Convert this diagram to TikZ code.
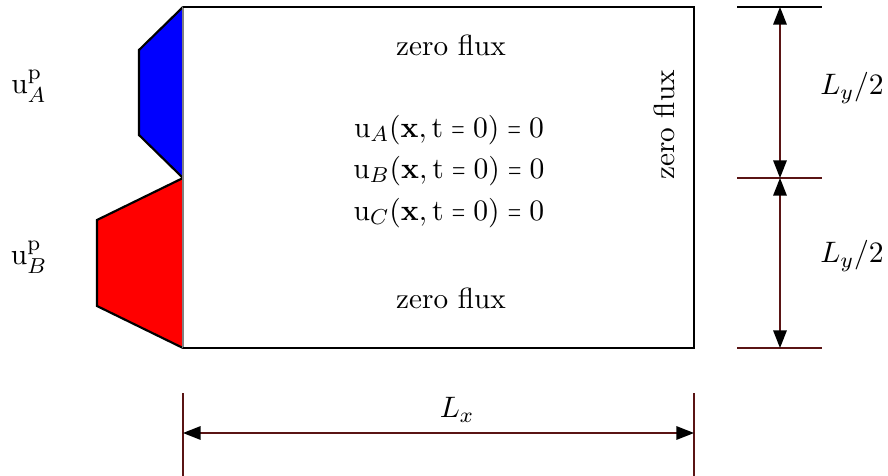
\documentclass[tikz,border=0pt]{standalone}
\usepackage{graphicx}
\usetikzlibrary{arrows.meta}
\definecolor{dimred}{RGB}{90,20,20}
\newcommand{\nareq}{\mathrel{\scalebox{0.58}[1]{$=$}}}
\tikzset{
  dimline/.style={dimred, line width=0.5pt},
  dimarrow/.style={dimred, line width=0.5pt, {Triangle[length=6.5pt,width=5pt,black]}-{Triangle[length=6.5pt,width=5pt,black]}},
  inlet/.style={draw=black, line width=0.8pt, line join=miter},
  every node/.style={font=\fontsize{10.8}{13}\selectfont},
}
\begin{document}
\begin{tikzpicture}[x=0.37pt, y=-0.37pt]
\useasboundingbox (0,0) rectangle (888,476);
% domain corners
\coordinate (tl) at (183,7);
\coordinate (tr) at (694,7);
\coordinate (ml) at (183,178);
\coordinate (bl) at (183,348);
\coordinate (br) at (694,348);
% inflow profiles
\fill[blue] (tl) -- (139,50) -- (139,135) -- (ml) -- cycle;
\draw[inlet] (tl) -- (139,50) -- (139,135) -- (ml);
\fill[red] (ml) -- (97,220) -- (97,306) -- (bl) -- cycle;
\draw[inlet] (ml) -- (97,220) -- (97,306) -- (bl);
\draw[black!50, line width=0.4pt] (tl) -- (bl);
\draw[line width=0.8pt] (tl) -- (tr) -- (br) -- (bl);
\node (upA) at (29,86) {$\mathrm{u}_A^{\mathrm{p}}$};
\node (upB) at (29,257) {$\mathrm{u}_B^{\mathrm{p}}$};
% boundary and initial conditions
\node (fluxtop) at (451,45) {zero flux};
\node (fluxbot) at (451,298) {zero flux};
\node[rotate=90] (fluxright) at (664,125) {zero flux};
\node (icA) at (449,130) {$\mathrm{u}_A(\mathbf{x},\mathrm{t}\nareq0)\nareq0$};
\node (icB) at (449,171) {$\mathrm{u}_B(\mathbf{x},\mathrm{t}\nareq0)\nareq0$};
\node (icC) at (449,213) {$\mathrm{u}_C(\mathbf{x},\mathrm{t}\nareq0)\nareq0$};
% dimension Ly
\draw[line width=0.5pt] (737,7) -- (822,7);
\draw[dimline] (737,178) -- (822,178);
\draw[dimline] (737,348) -- (822,348);
\coordinate (ytop) at (780,7);
\coordinate (ymid) at (780,178);
\coordinate (ybot) at (780,348);
\draw[dimarrow] (ytop) -- (ymid);
\draw[dimarrow] (ymid) -- (ybot);
\node (ly1) at (852,88) {$L_y/2$};
\node (ly2) at (852,256) {$L_y/2$};
% dimension Lx
\draw[dimline] (183,393) -- (183,476);
\draw[dimline] (694,393) -- (694,476);
\coordinate (xleft) at (183,433);
\coordinate (xright) at (694,433);
\draw[dimarrow] (xleft) -- (xright);
\node (lx) at (457,410) {$L_x$};
\end{tikzpicture}
\end{document}
